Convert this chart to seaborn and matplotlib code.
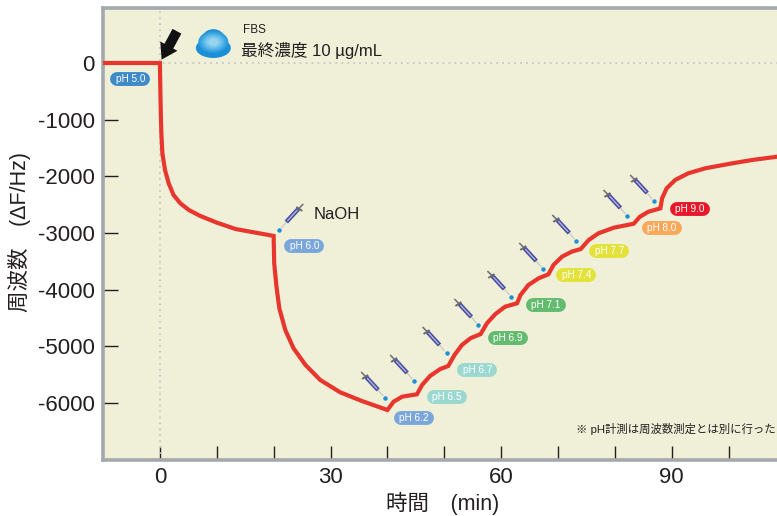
import pandas as pd
import matplotlib
matplotlib.use("Agg")
import matplotlib.pyplot as plt
import seaborn as sns
from matplotlib.patches import Ellipse

# Frequency trace
time_min = [-10, 0, 0.15, 0.26, 0.44, 0.9, 1.55, 2.4, 3.6, 5.1, 7.1, 10.05, 13.3, 16.5, 20,
            20.1, 20.5, 21, 22.05, 23.5, 25.6, 28.2, 31.7, 35.5, 40,
            41.1, 42.6, 45.2,
            46.1, 47.5, 49.3, 50.7,
            51.8, 53.1, 54.6, 56.4,
            57.5, 59, 60.7, 62.8,
            63.4, 64.8, 66.6, 68.3,
            69.2, 70.7, 72.4, 74,
            75.4, 77.1, 79.8, 83.3,
            84.4, 85.9, 88,
            88.3, 89.1, 90.6, 92.9, 95.9, 100, 104.1, 108.5]
freq_hz = [0, 0, -830, -1240, -1590, -1887, -2122, -2328, -2475, -2593, -2698, -2817, -2928, -2986, -3050,
           -3533, -3945, -4326, -4709, -5032, -5326, -5591, -5808, -5961, -6120,
           -5973, -5885, -5843,
           -5679, -5520, -5397, -5344,
           -5150, -4974, -4855, -4780,
           -4591, -4427, -4298, -4238,
           -4092, -3915, -3797, -3727,
           -3563, -3416, -3328, -3280,
           -3122, -3004, -2905, -2835,
           -2711, -2623, -2563,
           -2386, -2210, -2063, -1945, -1857, -1781, -1711, -1653]

# pH badges
ph_labels = ["pH 5.0", "pH 6.0", "pH 6.2", "pH 6.5", "pH 6.7", "pH 6.9",
             "pH 7.1", "pH 7.4", "pH 7.7", "pH 8.0", "pH 9.0"]
ph_time = [-5.2, 25.4, 44.6, 50.4, 55.8, 61.2, 67.8, 73.2, 79.0, 88.3, 93.2]
ph_freq = [-282, -3227, -6261, -5891, -5414, -4850, -4268, -3739, -3316, -2905, -2575]
ph_colors = ["#3f8ac8", "#7ba6dc", "#7ba6dc", "#9bd8d0", "#9bd8d0", "#62bb6e",
             "#62bb6e", "#e3e23a", "#e3e23a", "#f9a85a", "#e8182a"]

# Where each NaOH drop falls
drop_time = [21.0, 39.6, 44.7, 50.4, 56.0, 61.8, 67.4, 73.2, 82.2, 86.9]
drop_freq = [-2945, -5908, -5608, -5115, -4621, -4127, -3633, -3139, -2698, -2434]

x_ticks = [0, 30, 60, 90]
x_minor = list(range(0, 110, 10))
y_ticks = [0, -1000, -2000, -3000, -4000, -5000, -6000]

PX_X = 5.69   # pixels per minute
PX_Y = 0.0567  # pixels per Hz
BG = "#f0efd7"
SPINE = "#a3a9ad"
TEXT = "#231f20"

sns.set_theme(style="white")
plt.rcParams['font.family'] = ['Liberation Sans', 'Noto Sans CJK JP', 'DejaVu Sans']
plt.rcParams['axes.unicode_minus'] = False


def draw_syringe(ax, t, f, side=-1):
    """Syringe drawn back from the drop position, offsets in pixels."""
    def pos(dx, dy):
        return t + side * dx / PX_X, f + dy / PX_Y
    def seg(a, b, **kw):
        pa, pb = pos(*a), pos(*b)
        ax.plot([pa[0], pb[0]], [pa[1], pb[1]], solid_capstyle="butt", zorder=4, **kw)
    seg((2, 2), (7, 8), color="#c9c9c0", lw=0.9)
    seg((7, 8), (19, 21), color="#4a4e9f", lw=3.2)
    seg((8, 9), (18, 20), color="#b0b2dc", lw=1.0)
    seg((19, 21), (24, 26), color="#77777a", lw=1.2)
    seg((17, 23), (23, 19), color="#6b6b6e", lw=1.4)
    ax.plot(*pos(0, 0), marker="o", ms=3.2, color="#1f8fd6", mew=0, zorder=4)


fig, ax = plt.subplots(figsize=(7.77, 5.16), dpi=100)
fig.subplots_adjust(left=103 / 777, right=1.0, bottom=1 - 460 / 516, top=1 - 8 / 516)
ax.set_facecolor(BG)

# Dotted zero lines
ax.axhline(0, color="#c6c8c8", lw=1.3, ls=(0, (1, 2.3)), zorder=1)
ax.axvline(0, color="#c6c8c8", lw=1.3, ls=(0, (1, 2.3)), zorder=1)

df = pd.DataFrame({"time": time_min, "freq": freq_hz})
sns.lineplot(data=df, x="time", y="freq", sort=False, errorbar=None, color="#e8352e",
             lw=3, ax=ax, zorder=3)
ax.lines[-1].set_solid_joinstyle("miter")

ax.set_xlim(-10, 108.5)
ax.set_ylim(-7002, 970)
ax.set_xticks(x_ticks)
ax.set_xticks(x_minor, minor=True)
ax.set_yticks(y_ticks)
ax.tick_params(axis="y", which="major", direction="in", length=11, width=1, color=TEXT,
               labelsize=16, labelcolor=TEXT, pad=6, left=True)
ax.tick_params(axis="x", which="major", direction="in", length=10, width=1, color=TEXT,
               labelsize=16, labelcolor=TEXT, pad=5, bottom=True)
ax.tick_params(axis="x", which="minor", direction="in", length=10, width=1, color=TEXT, bottom=True)

for side in ["left", "bottom", "top"]:
    ax.spines[side].set_color(SPINE)
    ax.spines[side].set_linewidth(2.6)
ax.spines["right"].set_visible(False)

ax.set_xlabel("時間　(min)", fontsize=15.5, color=TEXT)
ax.set_ylabel("周波数　(ΔF/Hz)", fontsize=15.5, color=TEXT)
ax.xaxis.set_label_coords(0.504, -0.071)
ax.yaxis.set_label_coords(-0.107, 0.504)

# pH badges
for label, t, f, c in zip(ph_labels, ph_time, ph_freq, ph_colors):
    ax.plot([t - 13 / PX_X, t + 13 / PX_X], [f, f], color=c, lw=10, solid_capstyle="round", zorder=5)
    ax.text(t, f, label, color="white", fontsize=7.2, ha="center", va="center", zorder=6)

# Syringes
for i, (t, f) in enumerate(zip(drop_time, drop_freq)):
    draw_syringe(ax, t, f, side=1 if i == 0 else -1)
ax.text(27, -2670, "NaOH", fontsize=12, color=TEXT, va="center")

# FBS addition
ax.annotate("", xy=(0.3, 60), xytext=(3.0, 560), zorder=5,
            arrowprops=dict(arrowstyle="simple,head_length=0.55,head_width=0.7,tail_width=0.36",
                            color="#111111", lw=0, mutation_scale=20, shrinkA=0, shrinkB=0))
for yc, h in [(265, 20), (420, 20)]:
    w = 35 if yc == 265 else 23
    ax.add_patch(Ellipse((9.4, yc), w / PX_X, h / PX_Y, color="#1a8fd8", lw=0, zorder=4))
blob_sizes = [(30, 22, "#2b9bdd"), (26, 19, "#3fa8e2"), (22, 16, "#56b5e7"),
              (18, 13, "#6dc1ea"), (14, 10, "#83cced"), (10, 7, "#98d6ef")]
for w, h, c in blob_sizes:
    ax.add_patch(Ellipse((9.4, 370), w / PX_X, h / PX_Y, color=c, lw=0, zorder=4))
ax.text(14.7, 580, "FBS", fontsize=8.5, color=TEXT, va="center")
ax.text(14.3, 225, "最終濃度 10 µg/mL", fontsize=12, color=TEXT, va="center")

ax.text(108.3, -6460, "※ pH計測は周波数測定とは別に行った", fontsize=8.2, color=TEXT,
        ha="right", va="center")

fig.savefig("out.png", dpi=100)
